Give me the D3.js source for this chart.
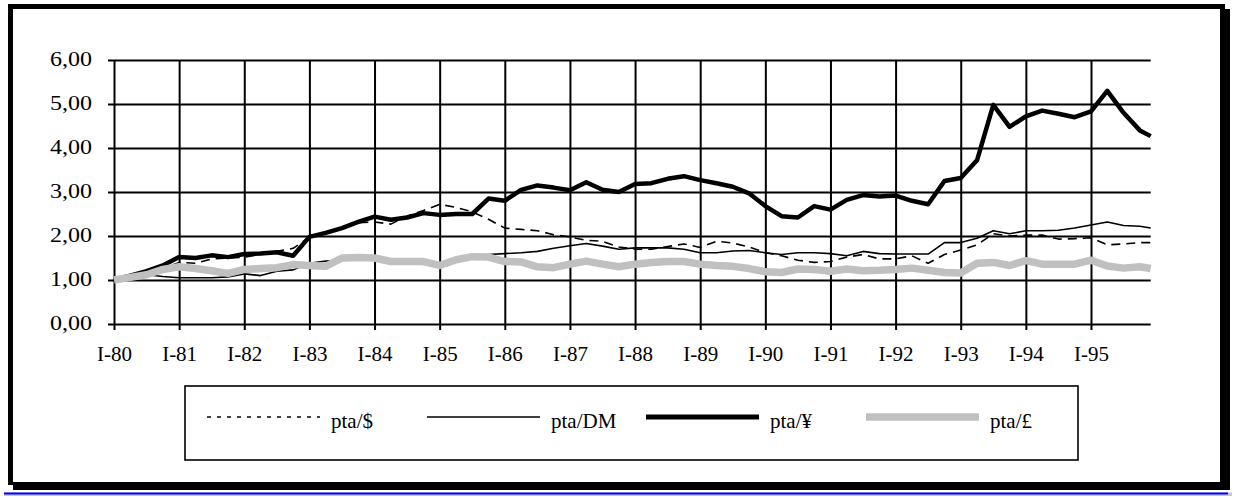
<!DOCTYPE html>
<html>
<head>
<meta charset="utf-8">
<script src="https://cdn.jsdelivr.net/npm/d3@7"></script>
<style>
  html, body { margin: 0; padding: 0; background: #fff; }
  svg { display: block; }
  text { font-family: "Liberation Serif", "Times New Roman", serif; fill: #000; }
</style>
</head>
<body>
<svg id="chart" width="1234" height="497"></svg>
<script>
// ---- data (month index from January 1980) ----
const monthIndex = [0,3,6,9,12,15,18,21,24,27,30,33,36,39,42,45,48,51,54,57,60,63,66,69,72,75,78,81,84,87,90,93,96,99,102,105,108,111,114,117,120,123,126,129,132,135,138,141,144,147,150,153,156,159,162,165,168,171,174,177,180,183,186,189,191];

const seriesNames = ["pta/$", "pta/DM", "pta/¥", "pta/£"];

const ptaUSD = [1.00,1.06,1.12,1.25,1.40,1.38,1.48,1.50,1.52,1.58,1.65,1.72,1.97,2.08,2.18,2.30,2.32,2.27,2.45,2.58,2.72,2.65,2.55,2.38,2.18,2.15,2.12,2.03,1.98,1.90,1.88,1.75,1.70,1.70,1.76,1.82,1.74,1.88,1.84,1.75,1.62,1.55,1.45,1.40,1.42,1.52,1.58,1.48,1.48,1.55,1.38,1.58,1.68,1.80,2.05,2.00,2.02,2.02,1.93,1.94,1.96,1.80,1.82,1.85,1.85];

const ptaDM = [1.00,1.05,1.12,1.08,1.05,1.05,1.05,1.07,1.14,1.10,1.20,1.23,1.38,1.43,1.45,1.47,1.45,1.43,1.42,1.40,1.38,1.42,1.50,1.58,1.60,1.62,1.65,1.72,1.78,1.83,1.77,1.70,1.73,1.73,1.73,1.70,1.62,1.62,1.66,1.67,1.62,1.58,1.62,1.62,1.60,1.55,1.65,1.60,1.59,1.59,1.59,1.85,1.85,1.95,2.12,2.05,2.12,2.12,2.13,2.18,2.25,2.32,2.24,2.22,2.18];

const ptaYEN = [1.00,1.10,1.20,1.33,1.52,1.50,1.56,1.52,1.59,1.60,1.63,1.55,1.98,2.07,2.18,2.32,2.44,2.37,2.42,2.52,2.48,2.50,2.50,2.85,2.80,3.05,3.15,3.10,3.04,3.22,3.05,3.00,3.18,3.20,3.30,3.36,3.27,3.20,3.12,2.97,2.68,2.45,2.42,2.68,2.60,2.82,2.93,2.90,2.92,2.80,2.72,3.25,3.32,3.72,4.98,4.48,4.72,4.85,4.78,4.70,4.83,5.30,4.80,4.40,4.27];

const ptaGBP = [1.00,1.06,1.12,1.24,1.30,1.26,1.21,1.15,1.24,1.26,1.28,1.35,1.33,1.31,1.50,1.51,1.50,1.42,1.42,1.42,1.33,1.46,1.53,1.52,1.42,1.41,1.30,1.28,1.36,1.43,1.36,1.30,1.36,1.40,1.42,1.42,1.36,1.33,1.31,1.26,1.19,1.17,1.25,1.24,1.20,1.25,1.21,1.22,1.24,1.27,1.22,1.17,1.16,1.38,1.40,1.33,1.44,1.36,1.36,1.36,1.45,1.32,1.27,1.30,1.26];

const yTickValues = [0,1,2,3,4,5,6];
const xTickMonths = [0,12,24,36,48,60,72,84,96,108,120,132,144,156,168,180];
const xTickLabels = ["I-80","I-81","I-82","I-83","I-84","I-85","I-86","I-87","I-88","I-89","I-90","I-91","I-92","I-93","I-94","I-95"];

// ---- layout / styles ----
const svg = d3.select("#chart");
const plot = { left: 114, right: 1150.7, top: 60, bottom: 324 };
const styles = [
  { color: "#000", width: 1.6, dash: "9,6", legendDash: "4,6" },
  { color: "#000", width: 1.6, dash: null, legendDash: null },
  { color: "#000", width: 4.5, dash: null, legendDash: null },
  { color: "#c0c0c0", width: 7.5, dash: null, legendDash: null }
];

// frame with shadow
svg.append("rect").attr("x", 13).attr("y", 9).attr("width", 1217).attr("height", 481).attr("fill", "#000");
svg.append("rect").attr("x", 8).attr("y", 4).attr("width", 1217).attr("height", 481).attr("fill", "#000");
svg.append("rect").attr("x", 13).attr("y", 9).attr("width", 1207).attr("height", 473).attr("fill", "#fff");
// horizontal rule under the frame
svg.append("rect").attr("x", 4).attr("y", 492.5).attr("width", 1228).attr("height", 3.5).attr("fill", "#c8c8c8");
svg.append("rect").attr("x", 4).attr("y", 492.5).attr("width", 1224).attr("height", 2).attr("fill", "#0000ff");

const x = d3.scaleLinear().domain([0, 191]).range([plot.left, plot.right]);
const y = d3.scaleLinear().domain([0, 6]).range([plot.bottom, plot.top]);
const fmt = d => d3.format(".2f")(d).replace(".", ",");

// y axis with gridlines
const gy = svg.append("g").attr("transform", `translate(${plot.left},0)`)
  .call(d3.axisLeft(y).tickValues(yTickValues).tickFormat(fmt).tickSizeOuter(0).tickPadding(16));
gy.select(".domain").remove();
gy.selectAll(".tick line").attr("x1", -6).attr("x2", plot.right - plot.left)
  .attr("stroke", "#000").attr("stroke-width", 2);
gy.selectAll(".tick text").attr("font-size", 20).attr("dy", "0.28em")
  .attr("textLength", 42).attr("lengthAdjust", "spacingAndGlyphs");

// x axis with gridlines
const gx = svg.append("g").attr("transform", `translate(0,${plot.bottom})`)
  .call(d3.axisBottom(x).tickValues(xTickMonths).tickFormat((d, i) => xTickLabels[i]).tickSizeOuter(0).tickPadding(20));
gx.select(".domain").remove();
gx.selectAll(".tick line").attr("y1", plot.top - plot.bottom).attr("y2", 6)
  .attr("stroke", "#000").attr("stroke-width", 2);
gx.selectAll(".tick text").attr("font-size", 21).attr("dy", "0.5em");

// series lines
const allSeries = [ptaUSD, ptaDM, ptaYEN, ptaGBP];
const line = d3.line().x((d, i) => x(monthIndex[i])).y(d => y(d));
allSeries.forEach((vals, k) => {
  const s = styles[k];
  svg.append("path").datum(vals)
    .attr("d", line)
    .attr("fill", "none")
    .attr("stroke", s.color)
    .attr("stroke-width", s.width)
    .attr("stroke-linejoin", "round")
    .attr("stroke-dasharray", s.dash);
});

// legend
svg.append("rect").attr("x", 185).attr("y", 386).attr("width", 893).attr("height", 74)
  .attr("fill", "#fff").attr("stroke", "#000").attr("stroke-width", 1.6);
const legendX = [207, 427, 646, 866];
seriesNames.forEach((name, k) => {
  const s = styles[k];
  svg.append("line").attr("x1", legendX[k]).attr("x2", legendX[k] + 113)
    .attr("y1", 417).attr("y2", 417)
    .attr("stroke", s.color)
    .attr("stroke-width", k === 2 ? 5 : s.width)
    .attr("stroke-dasharray", s.legendDash);
  svg.append("text").attr("x", legendX[k] + 124).attr("y", 428)
    .attr("font-size", 21).text(name);
});
</script>
</body>
</html>
